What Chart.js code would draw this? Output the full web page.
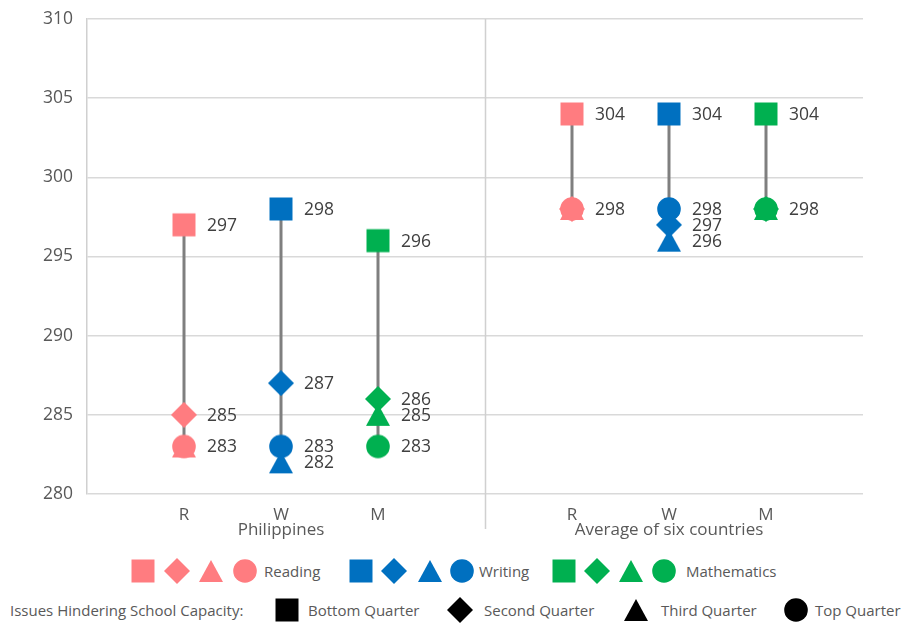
<!DOCTYPE html>
<html>
<head>
<meta charset="utf-8">
<script src="https://cdn.jsdelivr.net/npm/chart.js@4"></script>
<style>
  body { margin: 0; background: #fff; font-family: "Open Sans", sans-serif; }
  #wrap { position: relative; width: 904px; height: 628px; }
  #chart { position: absolute; left: 0; top: 0; }
  .lg { position: absolute; color: #595959; font-size: 15px; white-space: nowrap; transform: translateY(-50%); }
  .mk { position: absolute; }
</style>
</head>
<body>
<div id="wrap">
  <canvas id="chart" width="904" height="545"></canvas>
  <div id="legend"></div>
</div>
<script>
const categories = ["R", "W", "M", "R", "W", "M"];
const xPositions = [1, 2, 3, 5, 6, 7];
const groups = ["Philippines", "Average of six countries"];
const groupCenters = [2, 6];
const dividerAt = 4.1;

// quartiles of "Issues Hindering School Capacity"
const bottomQuarter = [297, 298, 296, 304, 304, 304];
const secondQuarter = [285, 287, 286, 298, 297, 298];
const thirdQuarter = [283, 282, 285, 298, 296, 298];
const topQuarter = [283, 283, 283, 298, 298, 298];

const subjects = ["Reading", "Writing", "Mathematics"];
const subjectColors = ["#FF7C80", "#0070C0", "#00B050"];
const quarterNames = ["Bottom Quarter", "Second Quarter", "Third Quarter", "Top Quarter"];
const quarterShapes = ["square", "diamond", "triangle", "circle"];
const quarterValues = [bottomQuarter, secondQuarter, thirdQuarter, topQuarter];

// draw a marker into a small canvas, centred on its bounding box like Excel does
function makeMarker(shape, color) {
  const c = document.createElement("canvas");
  c.width = 26;
  c.height = 26;
  const ctx = c.getContext("2d");
  ctx.fillStyle = color;
  ctx.beginPath();
  if (shape === "square") {
    ctx.rect(1.5, 1.5, 23, 23);
  } else if (shape === "diamond") {
    ctx.moveTo(13, 0);
    ctx.lineTo(26, 13);
    ctx.lineTo(13, 26);
    ctx.lineTo(0, 13);
    ctx.closePath();
  } else if (shape === "triangle") {
    ctx.moveTo(13, 2);
    ctx.lineTo(25, 24);
    ctx.lineTo(1, 24);
    ctx.closePath();
  } else {
    ctx.arc(13, 13, 11.8, 0, Math.PI * 2);
  }
  ctx.fill();
  return c;
}

const datasets = quarterValues.map((values, q) => ({
  label: quarterNames[q],
  data: values.map((v, i) => ({ x: xPositions[i], y: v })),
  pointStyle: values.map((v, i) => makeMarker(quarterShapes[q], subjectColors[i % 3])),
  pointRadius: 13,
  pointHoverRadius: 13,
  order: 3 - q,
}));

const rangeLines = {
  id: "rangeLines",
  beforeDatasetsDraw(chart) {
    const { ctx, scales } = chart;
    ctx.save();
    ctx.strokeStyle = "#7F7F7F";
    ctx.lineWidth = 3;
    xPositions.forEach((xv, i) => {
      const vals = quarterValues.map((arr) => arr[i]);
      const x = scales.x.getPixelForValue(xv);
      ctx.beginPath();
      ctx.moveTo(x, scales.y.getPixelForValue(Math.max(...vals)));
      ctx.lineTo(x, scales.y.getPixelForValue(Math.min(...vals)));
      ctx.stroke();
    });
    ctx.restore();
  },
};

const valueLabels = {
  id: "valueLabels",
  afterDatasetsDraw(chart) {
    const { ctx, scales } = chart;
    ctx.save();
    ctx.font = "17.5px 'Open Sans'";
    ctx.fillStyle = "#404040";
    ctx.textBaseline = "middle";
    xPositions.forEach((xv, i) => {
      const seen = [];
      quarterValues.forEach((arr) => {
        const v = arr[i];
        if (seen.includes(v)) return;
        seen.push(v);
        ctx.fillText(String(v), scales.x.getPixelForValue(xv) + 23, scales.y.getPixelForValue(v) + 1);
      });
    });
    ctx.restore();
  },
};

const groupDivider = {
  id: "groupDivider",
  afterDraw(chart) {
    const { ctx, scales, chartArea } = chart;
    ctx.save();
    const x = Math.round(scales.x.getPixelForValue(dividerAt)) + 0.5;
    ctx.strokeStyle = "#D0D0D0";
    ctx.lineWidth = 1.5;
    ctx.beginPath();
    ctx.moveTo(x, chartArea.top);
    ctx.lineTo(x, 529);
    ctx.stroke();
    ctx.font = "17px 'Open Sans'";
    ctx.fillStyle = "#595959";
    ctx.textAlign = "center";
    ctx.textBaseline = "middle";
    groups.forEach((g, i) => {
      ctx.fillText(g, scales.x.getPixelForValue(groupCenters[i]), 530);
    });
    ctx.restore();
  },
};

new Chart(document.getElementById("chart"), {
  type: "scatter",
  data: { datasets },
  options: {
    responsive: false,
    animation: false,
    layout: { autoPadding: false, padding: { top: 19, right: 41, left: 0, bottom: 0 } },
    plugins: { legend: { display: false }, tooltip: { enabled: false } },
    scales: {
      x: {
        type: "linear",
        min: 0,
        max: 8,
        grid: { display: false },
        border: { display: false },
        afterBuildTicks: (scale) => {
          scale.ticks = xPositions.map((v) => ({ value: v }));
        },
        afterFit: (scale) => {
          scale.height = 51;
          scale.paddingLeft = 0;
          scale.paddingRight = 0;
        },
        ticks: {
          autoSkip: false,
          maxRotation: 0,
          padding: 3,
          color: "#595959",
          font: { family: "'Open Sans'", size: 17 },
          callback: (v) => categories[xPositions.indexOf(v)],
        },
      },
      y: {
        min: 280,
        max: 310,
        afterFit: (scale) => {
          scale.width = 87;
          scale.paddingTop = 0;
          scale.paddingBottom = 0;
        },
        grid: { color: "#D9D9D9", lineWidth: 1.5, drawTicks: false },
        border: { color: "#D0D0D0", width: 1.5 },
        ticks: {
          stepSize: 5,
          padding: 14,
          color: "#595959",
          font: { family: "'Open Sans'", size: 17.5 },
        },
      },
    },
  },
  plugins: [rangeLines, valueLabels, groupDivider],
});

// legend, placed under the chart
const legend = document.getElementById("legend");
function addMarker(shape, color, cx, cy) {
  const m = makeMarker(shape, color);
  m.className = "mk";
  m.style.left = cx - 13 + "px";
  m.style.top = cy - 13 + "px";
  legend.appendChild(m);
}
function addText(text, left, cy) {
  const s = document.createElement("span");
  s.className = "lg";
  s.textContent = text;
  s.style.left = left + "px";
  s.style.top = cy + "px";
  legend.appendChild(s);
}

const subjectMarkerX = [[143, 177, 211, 245], [361, 394, 430, 462], [564, 597, 631, 664]];
const subjectTextX = [264, 479, 686];
subjects.forEach((name, s) => {
  quarterShapes.forEach((shape, q) => addMarker(shape, subjectColors[s], subjectMarkerX[s][q], 571));
  addText(name, subjectTextX[s], 571);
});

addText("Issues Hindering School Capacity:", 10, 610);
const quarterMarkerX = [287, 460, 636, 796];
const quarterTextX = [308, 484, 661, 815];
quarterNames.forEach((name, q) => {
  addMarker(quarterShapes[q], "#000000", quarterMarkerX[q], 610);
  addText(name, quarterTextX[q], 610);
});
</script>
</body>
</html>
